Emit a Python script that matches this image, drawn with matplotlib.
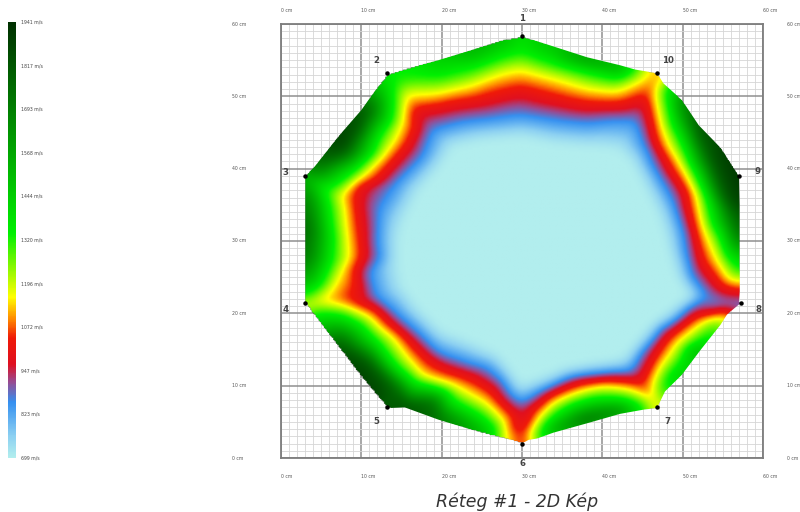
import numpy as np
import matplotlib
matplotlib.use("Agg")
import matplotlib.pyplot as plt
import matplotlib.tri as mtri
from matplotlib.colors import LinearSegmentedColormap
from matplotlib.patches import Polygon

# speeds on the colour scale
scale_ticks = [1941, 1817, 1693, 1568, 1444, 1320, 1196, 1072, 947, 823, 699]
axis_cm = [0, 10, 20, 30, 40, 50, 60]

# sensors, clockwise numbering as on the picture
sensor_no = [1, 2, 3, 4, 5, 6, 7, 8, 9, 10]
sensor_x = [30.0, 13.2, 3.0, 3.0, 13.2, 30.0, 46.8, 57.3, 57.0, 46.8]
sensor_y = [58.4, 53.2, 39.0, 21.4, 7.0, 2.0, 7.0, 21.4, 39.0, 53.2]
label_x = [30.0, 11.9, 0.6, 0.6, 11.9, 30.0, 48.1, 59.4, 59.3, 48.2]
label_y = [60.7, 55.0, 39.5, 20.5, 5.1, -0.8, 5.1, 20.5, 39.6, 55.0]

# outer edge of the coloured area with the speed read along it
edge_x = [30.0, 33.9, 38.1, 42.2, 44.1, 46.8, 47.6, 49.9, 52.0, 54.8, 57.0, 57.1, 57.1, 57.1, 57.1,
          57.1, 57.1, 57.0, 57.2, 56.0, 55.5, 54.7, 52.2, 49.9, 47.8, 46.8, 45.2, 42.2, 38.1, 33.9,
          31.9, 30.8, 30.0, 28.7, 26.6, 25.8, 19.6, 15.4, 13.3, 11.7, 10.0, 7.1, 5.1, 3.8, 3.0,
          3.0, 3.0, 3.0, 3.0, 3.0, 3.0, 4.2, 7.1, 10.0, 12.1, 13.2, 15.4, 19.6, 23.7, 27.5]
edge_y = [58.3, 56.9, 55.4, 54.3, 53.7, 53.2, 51.8, 49.5, 46.0, 42.8, 39.0, 35.0, 31.0, 28.0, 25.5,
          24.4, 23.0, 21.6, 21.4, 20.3, 19.8, 18.4, 14.9, 11.5, 9.2, 6.9, 6.7, 6.1, 4.8, 3.5,
          2.7, 2.5, 2.0, 2.5, 3.0, 3.2, 5.3, 7.0, 6.9, 8.9, 11.2, 15.4, 18.4, 20.2, 21.5,
          22.3, 25.0, 28.0, 32.0, 36.2, 39.0, 40.3, 44.4, 48.1, 51.4, 53.0, 53.8, 55.0, 56.4, 57.8]
edge_v = [1400, 1500, 1650, 1600, 1340, 1100, 1300, 1700, 1850, 1900, 1941, 1900, 1800, 1500, 1340,
          1157, 1007, 860, 850, 960, 1157, 1340, 1600, 1500, 1340, 1100, 1340, 1700, 1800, 1600,
          1340, 1157, 1000, 1157, 1340, 1500, 1750, 1850, 1800, 1900, 1900, 1850, 1500, 1300, 1180,
          1340, 1600, 1750, 1800, 1700, 1550, 1750, 1941, 1880, 1500, 1380, 1350, 1450, 1550, 1500]

# spots between the rings: wedges running to the sensors and the dark outer bands
spot_x = [30.0, 30.0, 30.0, 46.2, 45.6, 46.2, 45.9, 6.5, 8.0, 14.4, 55.0, 53.5, 52.0, 50.2, 56.0, 11.0, 14.0,
          19.0, 8.0, 10.0]
spot_y = [3.4, 5.0, 6.0, 8.2, 9.3, 51.7, 50.8, 21.9, 21.8, 51.2, 36.6, 41.0, 44.0, 47.0, 33.0, 13.0, 10.0,
          7.8, 42.5, 45.5]
spot_v = [1000, 985, 940, 1090, 1040, 1090, 1040, 1080, 1040, 1300, 1800, 1800, 1750, 1600, 1700, 1800, 1750,
          1700, 1800, 1750]

# iso-speed lines
plateau_v = 699
plateau_x = [29.8, 33.9, 38.1, 42.2, 43.9, 45.6, 47.2, 48.1, 49.3, 51.0, 48.1, 45.15, 43.1, 40.2, 35.2,
             29.8, 26.6, 22.9, 19.6, 17.1, 15.0, 14.4, 14.4, 15.4, 17.1, 19.6, 21.2, 25.0]
plateau_y = [44.45, 43.5, 43.1, 42.6, 40.8, 37.1, 33.4, 30.2, 25.5, 22.3, 19.8, 16.8, 14.0, 13.1, 12.2,
             9.9, 14.5, 16.3, 17.7, 20.5, 23.7, 27.4, 30.15, 33.4, 37.1, 40.3, 43.1, 44.0]

blue_v = 856
blue_x = [29.8, 33.9, 38.1, 42.2, 44.1, 45.15, 46.8, 48.9, 50.1, 51.0, 53.0, 56.4, 54.7, 50.5, 47.2, 44.7,
          43.5, 40.2, 35.2, 31.9, 29.8, 27.45, 23.3, 19.6, 17.1, 14.2, 11.7, 10.9, 11.9, 12.1, 14.2,
          17.5, 18.75, 22.5, 26.6]
blue_y = [47.45, 46.75, 46.3, 46.75, 46.75, 43.5, 39.4, 35.2, 31.1, 25.1, 22.3, 21.3, 21.2, 20.7, 18.2, 14.5,
          11.95, 11.7, 10.8, 8.95, 7.5, 10.8, 13.1, 14.5, 17.25, 20.0, 22.3, 25.5, 30.15, 34.3, 38.0,
          41.7, 45.4, 46.5, 47.0]

red_v = 1007
red_x = [29.8, 33.9, 38.1, 42.2, 45.4, 46.2, 48.1, 50.5, 51.4, 52.4, 54.7, 56.8, 55.7, 51.4, 48.1, 46.0,
         44.7, 41.4, 36.9, 33.1, 31.0, 28.7, 27.05, 24.1, 20.4, 17.9, 15.85, 13.4, 9.6, 9.6,
         10.2, 10.0, 9.4, 9.6, 13.4, 15.85, 16.5, 20.4, 24.6]
red_y = [50.9, 49.75, 48.8, 48.8, 50.0, 45.8, 40.8, 36.6, 31.5, 26.9, 23.7, 23.0, 20.4, 19.55, 16.8, 13.1,
         10.3, 10.8, 10.3, 8.5, 5.3, 4.35, 8.0, 10.8, 12.2, 14.0, 16.3, 18.6, 21.4, 23.7,
         27.85, 30.2, 34.8, 37.5, 40.3, 43.5, 48.1, 48.8, 49.5]

yellow_v = 1157
yellow_x = [29.8, 33.9, 38.1, 41.8, 44.3, 45.8, 47.4, 47.4, 49.7, 51.8, 52.6, 54.3, 56.8, 55.5, 51.8, 49.3,
            47.2, 46.2, 46.6, 46.0, 43.5, 40.2, 35.6, 32.3, 30.8, 28.7, 27.9, 25.4, 21.65, 17.5, 15.85,
            13.8, 10.9, 7.1, 4.2, 3.2, 5.9, 7.5, 8.2, 7.3, 10.0, 12.9, 15.0, 15.4, 19.2, 23.3, 27.5]
yellow_y = [53.7, 52.5, 51.1, 50.7, 52.05, 53.4, 51.8, 45.8, 40.8, 36.2, 31.55, 27.4, 24.4, 19.8, 18.2, 15.85,
            12.65, 9.9, 7.55, 7.55, 9.4, 9.9, 8.5, 5.7, 2.5, 2.5, 4.8, 7.6, 9.9, 11.25, 13.6,
            16.8, 19.55, 21.2, 21.4, 21.6, 22.8, 26.0, 30.15, 36.2, 38.9, 42.15, 46.3, 50.2, 50.4, 51.4, 53.2]

green_v = 1340
green_x = [29.8, 33.9, 38.1, 41.8, 43.9, 47.85, 48.5, 50.1, 51.8, 53.0, 54.5, 55.5, 57.0, 54.7, 51.8, 49.7,
           47.6, 47.2, 45.15, 42.2, 38.9, 34.4, 31.9, 26.6, 25.0, 21.2, 16.7, 14.2, 11.7, 7.5, 4.2,
           3.0, 5.1, 6.3, 6.5, 5.9, 9.2, 12.1, 14.0, 13.6, 15.4, 19.6, 23.7, 27.5]
green_y = [56.2, 54.6, 53.4, 52.5, 53.4, 51.4, 47.2, 43.1, 38.9, 35.7, 31.1, 27.85, 25.5, 18.4, 15.85, 13.1,
           10.3, 8.5, 7.1, 8.25, 8.25, 6.2, 3.0, 3.0, 5.7, 8.0, 10.3, 12.65, 16.3, 19.8, 20.2,
           22.3, 24.2, 27.4, 30.15, 35.2, 39.8, 44.45, 49.5, 52.75, 52.75, 52.75, 53.9, 55.5]

# colour ramp of the legend
ramp_v = [699, 760, 856, 915, 965, 1040, 1095, 1157, 1340, 1941]
ramp_c = ["#b2eeee", "#8cd0f2", "#3590f0", "#9a4a90", "#e01020", "#f01a08", "#ff8c00", "#ffff00", "#00f000", "#003000"]

vmin, vmax = ramp_v[0], ramp_v[-1]
cmap = LinearSegmentedColormap.from_list(
    "speed", [((v - vmin) / (vmax - vmin), c) for v, c in zip(ramp_v, ramp_c)], N=512)

xs = np.concatenate([edge_x, spot_x, plateau_x, blue_x, red_x, yellow_x, green_x]).astype(float)
ys = np.concatenate([edge_y, spot_y, plateau_y, blue_y, red_y, yellow_y, green_y]).astype(float)
vs = np.concatenate([edge_v, spot_v,
                     np.full(len(plateau_x), plateau_v), np.full(len(blue_x), blue_v),
                     np.full(len(red_x), red_v), np.full(len(yellow_x), yellow_v),
                     np.full(len(green_x), green_v)]).astype(float)

tri = mtri.Triangulation(xs, ys)
interp = mtri.LinearTriInterpolator(tri, vs)
gx, gy = np.meshgrid(np.linspace(0, 60, 361), np.linspace(0, 60, 361))
field = interp(gx, gy)


def soften(z, sigma):
    # gaussian blur that ignores the masked cells, hides the triangle facets
    n = int(3 * sigma)
    k = np.exp(-0.5 * (np.arange(-n, n + 1) / sigma) ** 2)
    k /= k.sum()
    ok = (~np.ma.getmaskarray(z)).astype(float)
    a = np.ma.filled(z, 0.0) * ok
    for axis in (0, 1):
        a = np.apply_along_axis(np.convolve, axis, a, k, mode="same")
        ok = np.apply_along_axis(np.convolve, axis, ok, k, mode="same")
    return np.ma.masked_where(np.ma.getmaskarray(z), a / np.maximum(ok, 1e-6))


field = soften(field, 4.5)

W, H = 800.0, 512.0
fig = plt.figure(figsize=(8, 5.12), dpi=100)
ax = fig.add_axes([281 / W, 1 - 458 / H, 482 / W, 434 / H])

im = ax.imshow(field, origin="lower", extent=(0, 60, 0, 60), cmap=cmap, vmin=vmin, vmax=vmax,
               aspect="auto", interpolation="bilinear", zorder=3)
outline = Polygon(np.column_stack([edge_x, edge_y]), closed=True, transform=ax.transData)
im.set_clip_path(outline)

ax.set_xlim(0, 60)
ax.set_ylim(0, 60)
ax.set_xticks(axis_cm)
ax.set_yticks(axis_cm)
ax.set_xticks(np.arange(0, 61), minor=True)
ax.set_yticks(np.arange(0, 61), minor=True)
ax.grid(which="minor", color="#d6d6d6", lw=0.6, zorder=0)
ax.grid(which="major", color="#8f8f8f", lw=1.1, zorder=1)
ax.set_axisbelow(True)
ax.tick_params(which="both", length=0, labelbottom=False, labelleft=False)
for s in ax.spines.values():
    s.set_color("#7d7d7d")
    s.set_linewidth(1.3)

ax.plot(sensor_x, sensor_y, "o", color="black", ms=2.2, zorder=5, clip_on=False)
for n, lx, ly in zip(sensor_no, label_x, label_y):
    ax.text(lx, ly, str(n), ha="center", va="center", fontsize=6.2, fontweight="bold",
            color="#444444", clip_on=False, zorder=6)

# axis labels sit outside the frame on all four sides
for c in axis_cm:
    txt = "%d cm" % c
    ax.annotate(txt, (c, 60), xytext=(0, 9.5), textcoords="offset points", fontsize=3.3,
                color="#555555", ha="left", va="center", annotation_clip=False)
    ax.annotate(txt, (c, 0), xytext=(0, -13.5), textcoords="offset points", fontsize=3.3,
                color="#555555", ha="left", va="center", annotation_clip=False)
    ax.annotate(txt, (0, c), xytext=(-35, 0), textcoords="offset points", fontsize=3.3,
                color="#555555", ha="left", va="center", annotation_clip=False)
    ax.annotate(txt, (60, c), xytext=(17, 0), textcoords="offset points", fontsize=3.3,
                color="#555555", ha="left", va="center", annotation_clip=False)

# colour legend on the left
cax = fig.add_axes([8 / W, 1 - 458 / H, 7 / W, 436 / H])
cax.imshow(np.linspace(vmax, vmin, 436).reshape(-1, 1), cmap=cmap, vmin=vmin, vmax=vmax, aspect="auto",
           extent=(0, 1, vmin, vmax))
cax.set_axis_off()
for t in scale_ticks:
    cax.annotate("%d m/s" % t, (1, t), xytext=(4.5, 0), textcoords="offset points", fontsize=3.3,
                 color="#444444", ha="left", va="center", annotation_clip=False)

fig.text(517 / W, 1 - 502 / H, "Réteg #1 - 2D Kép", ha="center", va="center", fontsize=12.5,
         style="italic", color="#333333")

fig.savefig("out.png", dpi=100)
